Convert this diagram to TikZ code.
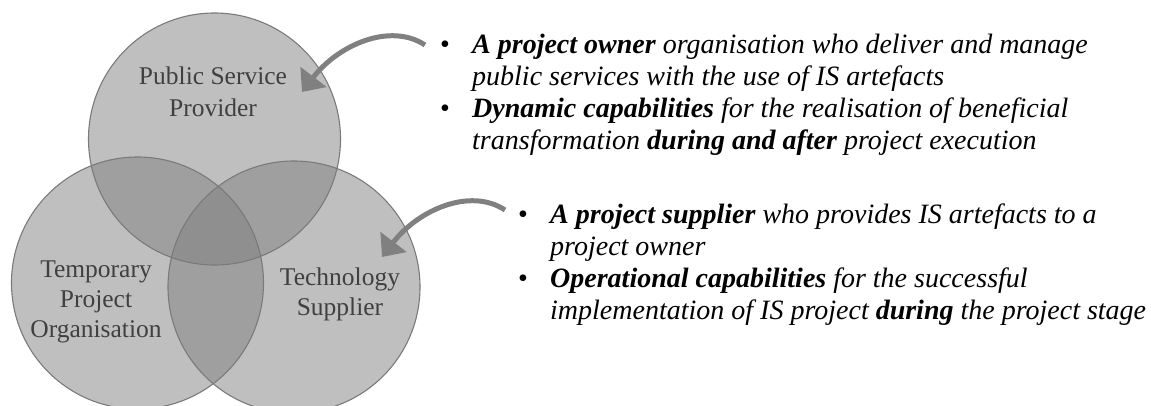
\documentclass[tikz,border=0pt]{standalone}
\usepackage{fontspec}
\setmainfont{Liberation Serif}
\usetikzlibrary{arrows.meta}
\definecolor{ringfill}{gray}{0.5}
\definecolor{ringline}{gray}{0.48}
\definecolor{labelgrey}{gray}{0.25}
\definecolor{arrowgrey}{gray}{0.5}
\begin{document}
\begin{tikzpicture}[x=1pt,y=-1pt,
  ring/.style={circle, inner sep=0pt, minimum size=252pt, fill=ringfill, fill opacity=0.5},
  ringedge/.style={draw=ringline, line width=1.1pt},
  setlabel/.style={font=\fontsize{25.5}{30}\selectfont, text=labelgrey, inner sep=0pt, anchor=base},
  item/.style={font=\fontsize{28}{32}\selectfont\itshape, inner sep=0pt, anchor=base west},
  dot/.style={font=\fontsize{28}{32}\selectfont, inner sep=0pt, anchor=base},
  callout/.style={draw=arrowgrey, line width=5pt, -{Triangle[length=19pt,width=32pt]}}]
\useasboundingbox (0,0) rectangle (1151,405);

% three overlapping sets, translucent so the overlaps darken
\node[ring] (psp) at (214.5,139) {};
\node[ring] (tpo) at (137.5,283) {};
\node[ring] (tsu) at (294,287) {};
\draw[ringedge] (psp.center) circle[radius=126pt];
\draw[ringedge] (tpo.center) circle[radius=126pt];
\draw[ringedge] (tsu.center) circle[radius=126pt];

% set names
\node[setlabel] (psp1) at (213,84) {Public Service};
\node[setlabel] (psp2) at (213,116) {Provider};
\node[setlabel] (tpo1) at (96,277) {Temporary};
\node[setlabel] (tpo2) at (96,307) {Project};
\node[setlabel] (tpo3) at (96,337) {Organisation};
\node[setlabel] (tsu1) at (340,285) {Technology};
\node[setlabel] (tsu2) at (340,315) {Supplier};

% descriptions of the public service provider
\node[dot] (b1) at (445,53) {•};
\node[item] (t1a) at (472,53) {\textbf{A project owner} organisation who deliver and manage};
\node[item] (t1b) at (472,85) {public services with the use of IS artefacts};
\node[dot] (b2) at (445,117) {•};
\node[item] (t1c) at (472,117) {\textbf{Dynamic capabilities} for the realisation of beneficial};
\node[item] (t1d) at (472,149) {transformation \textbf{during and after} project execution};

% descriptions of the technology supplier
\node[dot] (b3) at (523,223) {•};
\node[item] (t2a) at (550,223) {\textbf{A project supplier} who provides IS artefacts to a};
\node[item] (t2b) at (550,255) {project owner};
\node[dot] (b4) at (523,287) {•};
\node[item] (t2c) at (550,287) {\textbf{Operational capabilities} for the successful};
\node[item] (t2d) at (550,319) {implementation of IS project \textbf{during} the project stage};

% curved pointers from the descriptions to the sets
\coordinate (a1s) at (425,45);
\coordinate (a1e) at (302,92);
\coordinate (a2s) at (505,210);
\coordinate (a2e) at (382,257);
\draw[callout] (a1s) .. controls +(-35,-23) and +(36,-47) .. (a1e);
\draw[callout] (a2s) .. controls +(-35,-23) and +(36,-47) .. (a2e);
\end{tikzpicture}
\end{document}
